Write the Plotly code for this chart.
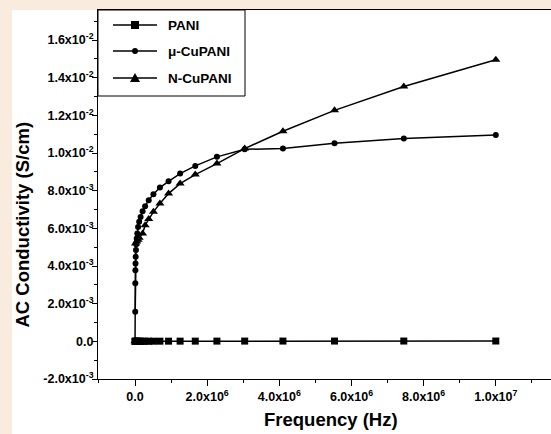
import plotly.graph_objects as go

# ---- data ----
freq_pani = [1.0e3, 5.0e3, 1.0e4, 2.0e4, 4.0e4, 6.3e4, 8.5e4, 1.15e5, 1.55e5, 2.1e5, 2.8e5,
             3.8e5, 5.1e5, 6.9e5, 9.3e5, 1.25e6, 1.67e6, 2.27e6, 3.04e6, 4.1e6, 5.53e6,
             7.45e6, 1.0e7]
cond_pani = [1e-6, 1e-6, 2e-6, 2e-6, 3e-6, 3e-6, 4e-6, 4e-6, 5e-6, 5e-6, 6e-6,
             7e-6, 8e-6, 9e-6, 1.0e-5, 1.1e-5, 1.2e-5, 1.3e-5, 1.4e-5, 1.5e-5, 1.6e-5,
             1.7e-5, 1.8e-5]

freq_mu = [5.8e3, 7.8e3, 1.05e4, 1.4e4, 1.9e4, 2.6e4, 3.5e4, 4.7e4, 6.3e4, 8.5e4, 1.15e5,
           1.55e5, 2.1e5, 2.8e5, 3.8e5, 5.1e5, 6.9e5, 9.3e5, 1.25e6, 1.67e6, 2.27e6,
           3.04e6, 4.1e6, 5.53e6, 7.45e6, 1.0e7]
cond_mu = [0.00157, 0.00308, 0.00378, 0.00414, 0.00449, 0.00485, 0.00516, 0.00546, 0.00573,
           0.00608, 0.00635, 0.0066, 0.00691, 0.00718, 0.0075, 0.00781, 0.00817, 0.0085,
           0.00891, 0.00932, 0.0098, 0.0102, 0.01024, 0.01052, 0.01078, 0.01096]

freq_n = [1.0e3, 1.5e4, 4.7e4, 8.5e4, 1.15e5, 2.1e5, 2.8e5, 3.8e5, 5.1e5, 6.9e5, 9.3e5,
          1.25e6, 1.67e6, 2.27e6, 3.04e6, 4.1e6, 5.53e6, 7.45e6, 1.0e7]
cond_n = [0.0, 0.0052, 0.0053, 0.0054, 0.0055, 0.00573, 0.00617, 0.0065, 0.00688, 0.00732,
          0.00785, 0.00838, 0.00886, 0.00944, 0.01024, 0.01116, 0.01227, 0.01354, 0.01496]

series_names = ["PANI", "\u03bc-CuPANI", "N-CuPANI"]
series_symbols = ["square", "circle", "triangle-up"]

y_tickvals = [-0.002, 0.0, 0.002, 0.004, 0.006, 0.008, 0.010, 0.012, 0.014, 0.016]
y_ticktext = ["-2.0x10<sup>-3</sup>", "0.0", "2.0x10<sup>-3</sup>", "4.0x10<sup>-3</sup>",
              "6.0x10<sup>-3</sup>", "8.0x10<sup>-3</sup>", "1.0x10<sup>-2</sup>",
              "1.2x10<sup>-2</sup>", "1.4x10<sup>-2</sup>", "1.6x10<sup>-2</sup>"]
x_tickvals = [0, 2e6, 4e6, 6e6, 8e6, 1e7]
x_ticktext = ["0.0", "2.0x10<sup>6</sup>", "4.0x10<sup>6</sup>", "6.0x10<sup>6</sup>",
              "8.0x10<sup>6</sup>", "1.0x10<sup>7</sup>"]

FONT = "Liberation Sans, Arial, sans-serif"
W, H = 551, 434
ML, MR, MT, MB = 98, 0, 10, 55
PW, PH = W - ML - MR, H - MT - MB


def px(xp):
    return (xp - ML) / PW


def py(yp):
    return (H - MB - yp) / PH


fig = go.Figure()
sizes = [7, 6, 8]
for name, sym, sz, xs, ys in zip(series_names, series_symbols, sizes,
                                 [freq_pani, freq_mu, freq_n], [cond_pani, cond_mu, cond_n]):
    fig.add_trace(go.Scatter(x=xs, y=ys, name=name, mode="lines+markers",
                             line=dict(color="black", width=1.5),
                             marker=dict(symbol=sym, size=sz, color="black"),
                             showlegend=False))

shapes = []
# white panel behind the figure
shapes.append(dict(type="rect", xref="paper", yref="paper",
                   x0=px(12), x1=1.0, y0=py(H), y1=py(10),
                   fillcolor="white", line=dict(width=0), layer="below"))
# legend box
shapes.append(dict(type="rect", xref="paper", yref="paper",
                   x0=px(98), x1=px(245), y0=py(96), y1=py(10),
                   fillcolor="white", line=dict(color="black", width=1), layer="above"))
annotations = []
row_y = [25, 51, 78]
for name, sym, yy in zip(series_names, series_symbols, row_y):
    shapes.append(dict(type="line", xref="paper", yref="paper",
                       x0=px(113), x1=px(157), y0=py(yy), y1=py(yy),
                       line=dict(color="black", width=1.5)))
    cx = 135
    if sym == "square":
        shapes.append(dict(type="rect", xref="paper", yref="paper",
                           x0=px(cx - 4), x1=px(cx + 4), y0=py(yy + 4), y1=py(yy - 4),
                           fillcolor="black", line=dict(width=0)))
    elif sym == "circle":
        shapes.append(dict(type="circle", xref="paper", yref="paper",
                           x0=px(cx - 3), x1=px(cx + 3), y0=py(yy + 3), y1=py(yy - 3),
                           fillcolor="black", line=dict(width=0)))
    else:
        path = "M {} {} L {} {} L {} {} Z".format(px(cx - 5), py(yy + 4), px(cx + 5), py(yy + 4),
                                                  px(cx), py(yy - 5))
        shapes.append(dict(type="path", xref="paper", yref="paper", path=path,
                           fillcolor="black", line=dict(width=0)))
    annotations.append(dict(xref="paper", yref="paper", x=px(166), y=py(yy),
                            xanchor="left", yanchor="middle", showarrow=False, text=name,
                            font=dict(size=13.5, weight="bold", family=FONT, color="black")))

# axis titles
annotations.append(dict(xref="paper", yref="paper", x=px(331), y=py(419),
                        xanchor="center", yanchor="middle", showarrow=False,
                        text="Frequency (Hz)",
                        font=dict(size=18.5, weight="bold", family=FONT, color="black")))
annotations.append(dict(xref="paper", yref="paper", x=px(22.5), y=py(225),
                        xanchor="center", yanchor="middle", showarrow=False, textangle=-90,
                        text="AC Conductivity (S/cm)",
                        font=dict(size=18.5, weight="bold", family=FONT, color="black")))

fig.update_layout(
    width=W, height=H,
    margin=dict(l=ML, r=MR, t=MT, b=MB),
    paper_bgcolor="#F9EBDE",
    plot_bgcolor="white",
    font=dict(family=FONT, color="black"),
    showlegend=False,
    shapes=shapes,
    annotations=annotations,
    xaxis=dict(range=[-1.026e6, 11.53e6], tickvals=x_tickvals, ticktext=x_ticktext,
               showgrid=False, zeroline=False, showline=True, linecolor="black",
               linewidth=1, mirror=True, ticks="outside", ticklen=6, tickcolor="black",
               tickfont=dict(size=12.5, weight="bold", family=FONT),
               minor=dict(dtick=1e6, tick0=0, ticks="outside", ticklen=3, tickcolor="black")),
    yaxis=dict(range=[-0.002, 0.0176], tickvals=y_tickvals, ticktext=y_ticktext,
               showgrid=False, zeroline=False, showline=True, linecolor="black",
               linewidth=1, mirror=False, ticks="outside", ticklen=5, tickcolor="black",
               ticklabelstandoff=-4,
               tickfont=dict(size=12.5, weight="bold", family=FONT),
               minor=dict(dtick=0.001, tick0=0, ticks="outside", ticklen=3, tickcolor="black")),
)

fig.write_html("out.html")
